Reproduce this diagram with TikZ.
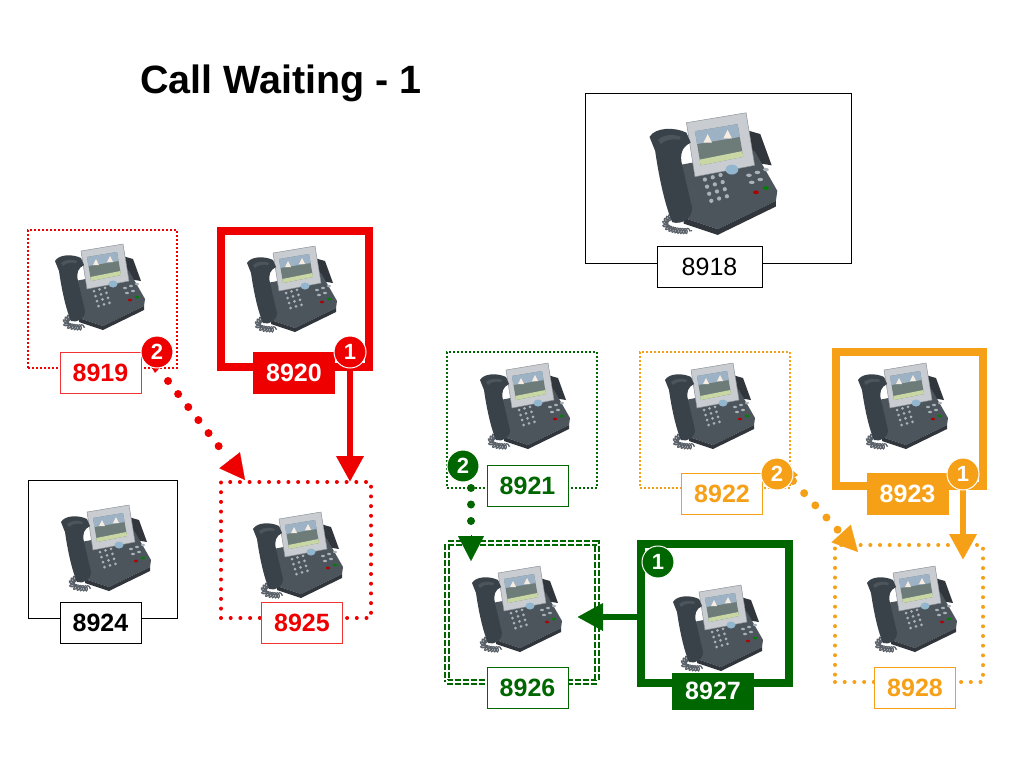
\documentclass[tikz,border=0pt]{standalone}
\usepackage{fontspec}
\setmainfont{Liberation Sans}
\usetikzlibrary{arrows.meta,calc,decorations.pathmorphing}
\definecolor{redc}{RGB}{238,0,0}
\definecolor{greenc}{RGB}{0,102,0}
\definecolor{orangec}{RGB}{246,160,24}
\definecolor{bodyc}{HTML}{4C545C}
\definecolor{bodydk}{HTML}{30363C}
\definecolor{bezelc}{HTML}{C9CDD1}
\definecolor{bezeldk}{HTML}{8C9298}
\definecolor{scrc}{HTML}{6D7C78}
\definecolor{skyc}{HTML}{9DB2C4}
\definecolor{stripc}{HTML}{C8D7A4}
\definecolor{navc}{HTML}{93B6CF}
\definecolor{keyc}{HTML}{AAB1B8}
\definecolor{handc}{HTML}{3A4249}
\definecolor{cordc}{HTML}{5A6168}
\tikzset{
  deskphone/.pic={
    \draw[cordc, line width=1.1pt, decorate, decoration={coil, aspect=0.6, segment length=2.6pt, amplitude=2.6pt}]
      (-22,30) .. controls (-38,33) and (-36,44) .. (-14,42);
    \fill[bodydk] (20,-30) -- (34,-26) -- (42,-4) -- (30,-6) -- cycle;
    \fill[bodyc] (-24,-4) -- (30,-14) -- (46,14) -- (45,21) -- (4,41) -- (-20,33) -- cycle;
    \fill[bodydk] (-20,33) -- (4,41) -- (45,21) -- (45,25) -- (4,45) -- (-20,37) -- cycle;
    \filldraw[fill=bezelc, draw=bezeldk, line width=0.5pt] (-18,-34) -- (24,-41) -- (30,-4) -- (-12,4) -- cycle;
    \fill[scrc] (-12,-28) -- (18,-33) -- (22,-10) -- (-8,-4) -- cycle;
    \fill[skyc] (-12,-28) -- (18,-33) -- (19.6,-24) -- (-10.6,-19) -- cycle;
    \fill[white!85!brown] (-6,-20) -- (-3,-26) -- (0,-20) -- cycle;
    \fill[white!85!brown] (8,-23) -- (11,-29) -- (14,-23) -- cycle;
    \fill[stripc] (-8.7,-8) -- (21.3,-14) -- (22,-10) -- (-8,-4) -- cycle;
    \fill[navc] (14,-1) ellipse (4.5 and 3.5);
    \foreach \i in {0,1,2} \foreach \j in {0,1,2,3}
      \fill[keyc] (-5+5.5*\i+1.5*\j, 6+5*\j-1.6*\i) circle (1.5);
    \foreach \p in {(26,3),(32,1),(38,-1),(28,8),(34,6)}
      \fill[keyc] \p ellipse (2 and 1.2);
    \fill[red!70!black] (31,15) ellipse (2 and 1.3);
    \fill[green!50!black] (38,12) ellipse (2 and 1.3);
    \fill[handc] (-44,-24) .. controls (-40,-31) and (-26,-31) .. (-18,-27) -- (-15,-20)
      .. controls (-21,-17) and (-23,-12) .. (-21,-4) -- (-14,26)
      .. controls (-14,34) and (-22,38) .. (-28,36)
      .. controls (-34,22) and (-38,0) .. (-40,-14) -- cycle;
    \fill[bodyc] (-38,-22) .. controls (-34,-26) and (-26,-26) .. (-22,-24) -- (-23,-22)
      .. controls (-28,-23) and (-33,-22) .. (-36,-19) -- cycle;
  },
  box/.style={rectangle, inner sep=0pt, outer sep=0pt},
  thinsolid/.style={box, draw=black, line width=1pt},
  thindot/.style={box, line width=1.6pt, dash pattern=on 1.6pt off 2.4pt},
  heavydot/.style={box, line width=4pt, line cap=round, dash pattern=on 0pt off 9.7pt},
  thickbox/.style={box, line width=8pt},
  dbldash/.style={box, line width=1.3pt, double=white, double distance=2.6pt, dash pattern=on 6pt off 2pt},
  lbl/.style={draw, line width=1pt, fill=white, inner sep=0pt, minimum width=81pt, minimum height=41pt,
    font=\bfseries\fontsize{25}{25}\selectfont},
  badge/.style={circle, inner sep=0pt, minimum size=32pt, draw=white, line width=1pt, text=white,
    font=\bfseries\fontsize{22}{22}\selectfont},
  dotline/.style={line width=8pt, line cap=round, dash pattern=on 0pt off 16.5pt},
  headonly/.style={line width=0.1pt, -{Triangle[length=25pt,width=26pt]}},
  solidarrow/.style={line width=6.5pt, -{Triangle[length=26pt,width=26pt]}}
}
\begin{document}
\begin{tikzpicture}[x=1pt,y=-1pt]
\useasboundingbox (0,0) rectangle (1024,768);
\fill[white] (0,0) rectangle (1024,768);

\node[anchor=base west, inner sep=0pt, font=\bfseries\fontsize{39.5}{44}\selectfont] (title) at (140,93) {Call Waiting - 1};

% boxes
\node[thinsolid, minimum width=266pt, minimum height=170pt] (b8918) at (718,178) {};
\node[thindot, draw=redc, minimum width=149pt, minimum height=138pt] (b8919) at (102.5,299) {};
\node[thickbox, draw=redc, minimum width=148pt, minimum height=136pt] (b8920) at (295,299) {};
\node[thinsolid, minimum width=149pt, minimum height=138pt] (b8924) at (102.5,549) {};
\node[heavydot, draw=redc, minimum width=150pt, minimum height=136pt] (b8925) at (296,550) {};
\node[thindot, draw=greenc, minimum width=150pt, minimum height=136pt] (b8921) at (522,420) {};
\node[dbldash, draw=greenc, minimum width=150pt, minimum height=139pt] (b8926) at (522,612.5) {};
\node[thickbox, draw=greenc, minimum width=148pt, minimum height=139pt] (b8927) at (715,613.5) {};
\node[thindot, draw=orangec, minimum width=150pt, minimum height=136pt] (b8922) at (715,420) {};
\node[thickbox, draw=orangec, minimum width=147pt, minimum height=134pt] (b8923) at (909.5,419) {};
\node[heavydot, draw=orangec, minimum width=148pt, minimum height=137pt] (b8928) at (909,613.5) {};

% phones
\pic[scale=1.42] at (712,171) {deskphone};
\pic at (99,285) {deskphone};
\pic at (291,287) {deskphone};
\pic at (105,546) {deskphone};
\pic at (297,553) {deskphone};
\pic at (524,404) {deskphone};
\pic at (709,404) {deskphone};
\pic at (902,404) {deskphone};
\pic at (516,607) {deskphone};
\pic at (717,626) {deskphone};
\pic at (911,607) {deskphone};

% labels
\node[lbl, font=\fontsize{25}{25}\selectfont, minimum width=105pt] (l8918) at (709.5,266.5) {8918};
\node[lbl, draw=redc!80, text=redc] (l8919) at (100.5,372.5) {8919};
\node[lbl, draw=redc, fill=redc, text=white] (l8920) at (294,372.5) {8920};
\node[lbl, draw=black, text=black] (l8924) at (100.5,623) {8924};
\node[lbl, draw=redc!80, text=redc] (l8925) at (302,623) {8925};
\node[lbl, draw=greenc, text=greenc] (l8921) at (527.5,485.5) {8921};
\node[lbl, draw=greenc, text=greenc] (l8926) at (527.5,687.5) {8926};
\node[lbl, draw=greenc, fill=greenc, text=white, minimum height=36pt] (l8927) at (713,691) {8927};
\node[lbl, draw=orangec, text=orangec] (l8922) at (722,493.5) {8922};
\node[lbl, draw=orangec, fill=orangec, text=white] (l8923) at (907.5,494) {8923};
\node[lbl, draw=orangec, text=orangec] (l8928) at (915,687.5) {8928};

% badge positions
\coordinate (r2c) at (157,352);
\coordinate (r1c) at (350,352);
\coordinate (g2c) at (463,466);
\coordinate (g1c) at (658,562);
\coordinate (o2c) at (777,474);
\coordinate (o1c) at (963,474);

% connector end points
\coordinate (rs) at ($(r2c)+(11,29)$);
\coordinate (rtip) at (245,480);
\coordinate (gs) at ($(g2c)+(8,22)$);
\coordinate (gtip) at (471,561);
\coordinate (os) at ($(o2c)+(16,7)$);
\coordinate (otip) at (858,552);
\coordinate (gatip) at (577,617);
\coordinate (oatip) at (963,560);

% dotted arrows
\draw[dotline, redc] (rs) -- ($(rtip)!27pt!(rs)$);
\draw[headonly, redc] ($(rtip)!26pt!(rs)$) -- (rtip);
\draw[dotline, greenc] (gs) -- ($(gtip)!27pt!(gs)$);
\draw[headonly, greenc] ($(gtip)!26pt!(gs)$) -- (gtip);
\draw[dotline, orangec] (os) -- ($(otip)!27pt!(os)$);
\draw[headonly, orangec] ($(otip)!26pt!(os)$) -- (otip);

% solid arrows
\draw[solidarrow, redc] (r1c |- b8920.south) -- (r1c |- b8925.north);
\draw[solidarrow, greenc] (b8927.west |- gatip) -- (gatip);
\draw[solidarrow, orangec] (oatip |- b8923.south) -- (oatip);

% badge tails
\fill[redc] ($(r2c)+(-9,9)$) -- ($(r2c)+(-2,21)$) -- ($(r2c)+(9,9)$) -- cycle;
\fill[orangec] ($(o2c)+(9,-9)$) -- ($(o2c)+(21,1)$) -- ($(o2c)+(9,9)$) -- cycle;

% badges
\node[badge, fill=redc] (r2) at (r2c) {2};
\node[badge, fill=redc] (r1) at (r1c) {1};
\node[badge, fill=greenc] (g2) at (g2c) {2};
\node[badge, fill=greenc] (g1) at (g1c) {1};
\node[badge, fill=orangec] (o2) at (o2c) {2};
\node[badge, fill=orangec] (o1) at (o1c) {1};
\end{tikzpicture}
\end{document}
